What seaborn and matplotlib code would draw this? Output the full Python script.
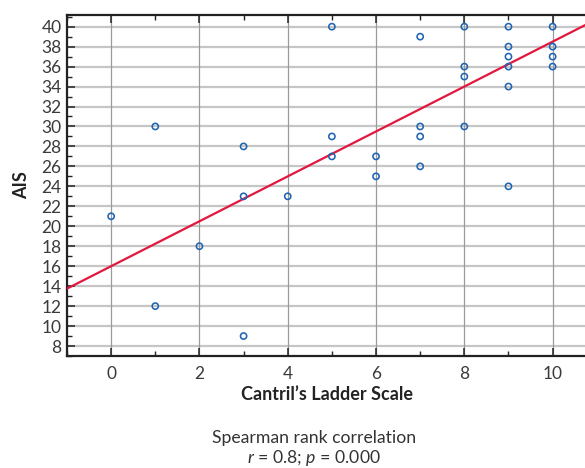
import numpy as np
import pandas as pd
import matplotlib
matplotlib.use("Agg")
import matplotlib.pyplot as plt
from matplotlib.ticker import MultipleLocator
import seaborn as sns

# Data
cantril = [0, 1, 1, 2, 3, 3, 3, 4, 5, 5, 5, 6, 6, 7, 7, 7, 7,
           8, 8, 8, 8, 9, 9, 9, 9, 9, 9, 10, 10, 10, 10]
ais = [21, 30, 12, 18, 28, 23, 9, 23, 40, 29, 27, 27, 25, 39, 30, 29, 26,
       40, 36, 35, 30, 40, 38, 37, 36, 34, 24, 40, 38, 37, 36]
fit_intercept = 16.0
fit_slope = 2.25
x_ticks = [0, 2, 4, 6, 8, 10]
y_ticks = list(range(8, 41, 2))
x_label = "Cantril\u2019s Ladder Scale"
y_label = "AIS"
footer_1 = "Spearman rank correlation"
footer_2 = r"$\mathit{r}$ = 0.8; $\mathit{p}$ = 0.000"

df = pd.DataFrame({"x": cantril, "y": ais})

sns.set_theme(style="white")
plt.rcParams["font.family"] = ["Lato", "DejaVu Sans"]
plt.rcParams["mathtext.fontset"] = "custom"
plt.rcParams["mathtext.it"] = "Lato:italic"
plt.rcParams["mathtext.rm"] = "Lato"

fig = plt.figure(figsize=(5.85, 4.68), dpi=100)
ax = fig.add_axes([67 / 585, 1 - 356 / 468, 1 - 67 / 585 + 0.002, (356 - 15) / 468])

xlim = (-1.0, 10.76)
ylim = (7.0, 41.17)
ax.set_xlim(*xlim)
ax.set_ylim(*ylim)

# grid
for yv in y_ticks:
    ax.axhline(yv, color="#c6c6c6", lw=1.6, zorder=0)
for xv in x_ticks:
    ax.axvline(xv, color="#9a9a9a", lw=0.9, zorder=0)

xs = np.array(xlim)
line_df = pd.DataFrame({"x": xs, "y": fit_intercept + fit_slope * xs})
sns.lineplot(data=line_df, x="x", y="y", ax=ax, color="#e3173e", lw=1.6, zorder=3)

sns.scatterplot(data=df, x="x", y="y", ax=ax, marker="o", s=20,
                facecolor="none", edgecolor="#1f64b0", linewidth=1.15, zorder=4)

ax.set_xticks(x_ticks)
ax.set_yticks(y_ticks)
ax.xaxis.set_minor_locator(MultipleLocator(1))
ax.yaxis.set_minor_locator(MultipleLocator(1))
ax.tick_params(axis="both", which="major", direction="in", length=6, width=1.1,
               color="#222222", labelsize=12.5, labelcolor="#3a3a3a", pad=7)
ax.tick_params(axis="both", which="minor", direction="in", length=3.5, width=1.0,
               color="#222222")
ax.tick_params(axis="x", which="both", top=True, bottom=True)
ax.tick_params(axis="y", which="both", left=True, right=False, pad=4)

for s in ["left", "bottom", "top"]:
    ax.spines[s].set_color("#222222")
    ax.spines[s].set_linewidth(1.6)
ax.spines["right"].set_visible(False)

ax.set_xlabel(x_label, fontsize=13, fontweight="bold", color="#222222", labelpad=3)
ax.set_ylabel(y_label, fontsize=13, fontweight="bold", color="#222222", labelpad=8)

fig.text(314 / 585, 1 - 438 / 468, footer_1, ha="center", va="center",
         fontsize=12.7, color="#333333")
fig.text(314 / 585, 1 - 458 / 468, footer_2, ha="center", va="center",
         fontsize=12.7, color="#333333")

fig.savefig("out.png", dpi=100)
